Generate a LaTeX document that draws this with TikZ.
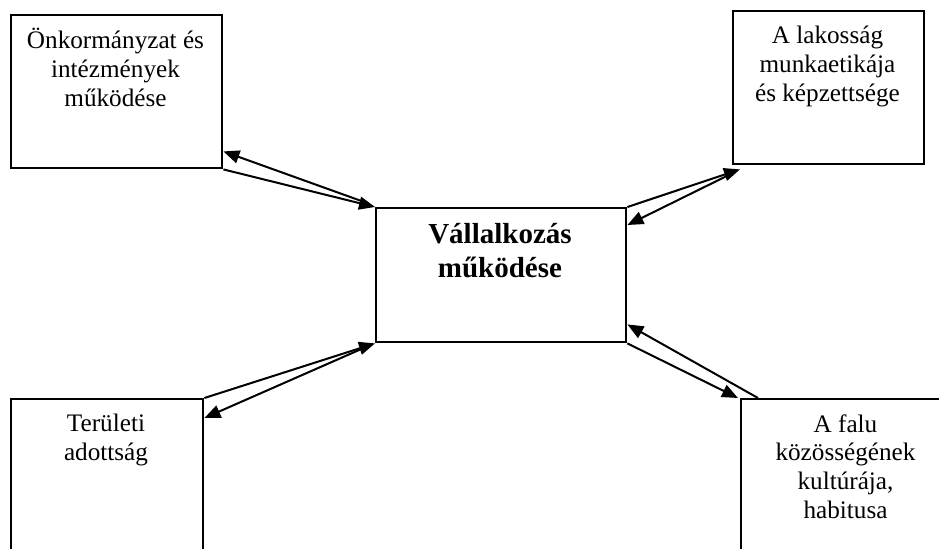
\documentclass[tikz,border=0pt]{standalone}
\usepackage{fontspec}
\setmainfont{Liberation Serif}
\usetikzlibrary{arrows.meta}
\begin{document}
\begin{tikzpicture}[x=0.5pt,y=-0.5pt,
	box/.style={draw, line width=1.2pt, inner sep=0pt, anchor=north west},
	txt/.style={align=center, anchor=base, inner sep=0pt, font=\fontsize{12.6}{14.3}\selectfont},
	link/.style={line width=1pt, -{Triangle[length=8pt,width=6.5pt]}}]
	\useasboundingbox (0,0) rectangle (939,548);
	\clip (0,0) rectangle (939,548);
	\node[box, minimum width=105.5pt, minimum height=76.5pt] (onk) at (10,14) {};
	\node[box, minimum width=95.5pt, minimum height=76.5pt] (lak) at (732,10) {};
	\node[box, minimum width=125pt, minimum height=67pt] (vall) at (375,207) {};
	\node[box, minimum width=96pt, minimum height=81pt] (ter) at (10,398) {};
	\node[box, minimum width=105.5pt, minimum height=81pt] (falu) at (740,398) {};
	\node[txt] (onkt) at (115.5,106) {Önkormányzat és\\intézmények\\működése};
	\node[txt] (lakt) at (827.5,101) {A lakosság\\munkaetikája\\és képzettsége};
	\node[txt, font=\bfseries\fontsize{14.5}{17}\selectfont] (vallt) at (500,277) {Vállalkozás\\működése};
	\node[txt] (tert) at (106,460) {Területi\\adottság};
	\node[txt] (falut) at (845.5,518) {A falu\\közösségének\\kultúrája,\\habitusa};
	\draw[link] (onk.south east) -- (vall.north west);
	\draw[link] ([shift={(-8,-4)}]vall.north west) -- ([shift={(0,-18)}]onk.south east);
	\draw[link] (vall.north east) -- ([shift={(8,4)}]lak.south west);
	\draw[link] ([shift={(-2,9)}]lak.south west) -- ([shift={(0,18)}]vall.north east);
	\draw[link] (ter.north east) -- (vall.south west);
	\draw[link] ([shift={(-10,4)}]vall.south west) -- ([shift={(0,20)}]ter.north east);
	\draw[link] (vall.south east) -- ([shift={(-2,0)}]falu.north west);
	\draw[link] ([shift={(18,0)}]falu.north west) -- ([shift={(0,-19)}]vall.south east);
\end{tikzpicture}
\end{document}
